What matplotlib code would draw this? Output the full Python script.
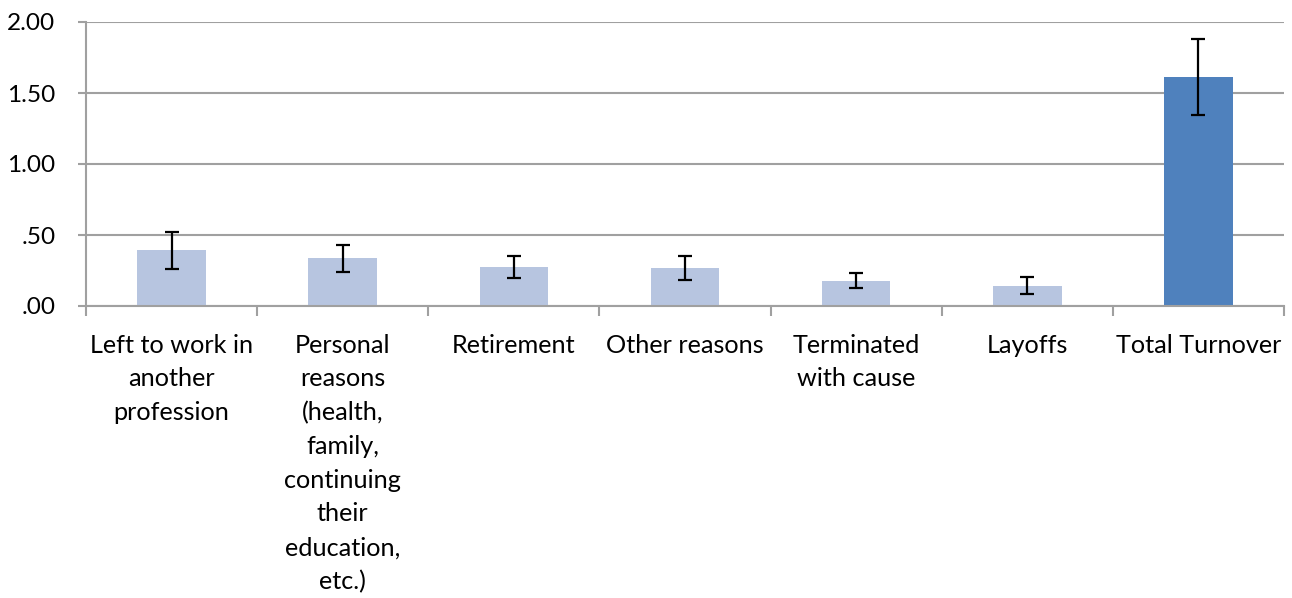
import matplotlib.pyplot as plt
import numpy as np

categories = ["Left to work in\nanother\nprofession",
              "Personal\nreasons\n(health,\nfamily,\ncontinuing\ntheir\neducation,\netc.)",
              "Retirement", "Other reasons", "Terminated\nwith cause", "Layoffs", "Total Turnover"]
values = [0.393, 0.336, 0.275, 0.270, 0.178, 0.143, 1.612]
errors = [0.130, 0.097, 0.079, 0.085, 0.052, 0.061, 0.268]
y_ticks = [0.0, 0.5, 1.0, 1.5, 2.0]
y_labels = [".00", ".50", "1.00", "1.50", "2.00"]

plt.rcParams['font.family'] = ['Lato', 'DejaVu Sans']

fig = plt.figure(figsize=(12.92, 5.98), dpi=100)
ax = fig.add_axes([86 / 1292, 1 - 306 / 598, (1284 - 86) / 1292, (306 - 22) / 598])

x = np.arange(len(categories))
colors = ['#B7C5E0'] * (len(categories) - 1) + ['#4F81BD']
ax.bar(x, values, width=0.4, color=colors, zorder=2)
ax.errorbar(x, values, yerr=errors, fmt='none', ecolor='black', elinewidth=1.6,
            capsize=5, capthick=1.6, zorder=3)

ax.set_xlim(-0.5, len(categories) - 0.5)
ax.set_ylim(0, 2.0)
ax.set_yticks(y_ticks)
ax.set_yticklabels(y_labels, fontsize=17.6)
ax.yaxis.grid(True, color='#A0A0A0', linewidth=1.5, zorder=0)
ax.set_axisbelow(True)

ax.set_xticks(x)
ax.set_xticklabels(categories, fontsize=18.2, linespacing=1.56, va='top')
ax.tick_params(axis='x', which='major', length=0, pad=20)
ax.set_xticks(np.arange(-0.5, len(categories)), minor=True)
ax.tick_params(axis='x', which='minor', length=7, width=1.5, color='#A0A0A0', direction='out')
ax.tick_params(axis='y', length=6, width=1.5, color='#A0A0A0', pad=16)

for side in ['top', 'right']:
    ax.spines[side].set_visible(False)
for side in ['left', 'bottom']:
    ax.spines[side].set_color('#A0A0A0')
    ax.spines[side].set_linewidth(1.5)

fig.savefig('out.png', dpi=100)
